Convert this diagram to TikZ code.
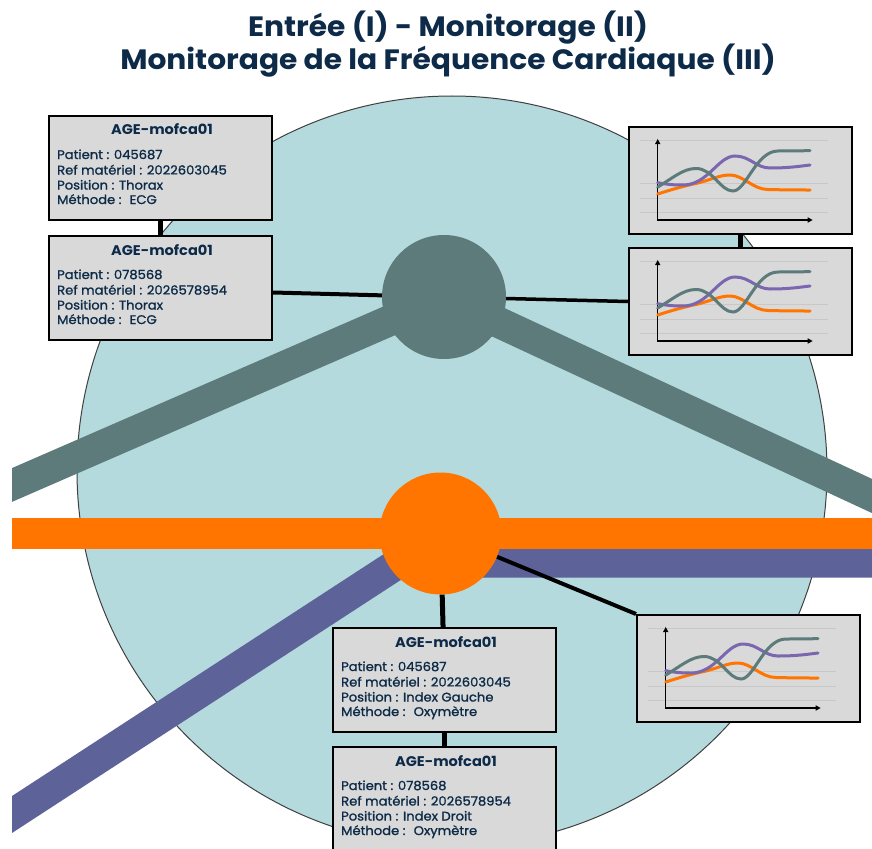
\documentclass[tikz,border=0pt]{standalone}
\usepackage{fontspec}
\setmainfont{Poppins}
\newfontfamily\titlef{Poppins}[FakeStretch=1.06]
\newfontfamily\bodyf{Poppins}[FakeStretch=1.05, FakeBold=1.3]
\newfontfamily\boxtitlef{Poppins}[FakeStretch=1.04]
\usetikzlibrary{arrows.meta,calc}
\definecolor{bgteal}{HTML}{B4DADD}
\definecolor{gnode}{HTML}{5C7B7A}
\definecolor{orng}{HTML}{FF7500}
\definecolor{purp}{HTML}{5D6299}
\definecolor{boxgray}{HTML}{D9D9D9}
\definecolor{navy}{HTML}{0D2B48}
\definecolor{chpurp}{HTML}{7B67AF}
\definecolor{gridc}{HTML}{C8C8C8}
\tikzset{
  infobox/.style={draw=black, line width=2pt, fill=boxgray, minimum width=223pt, minimum height=104pt, inner sep=0pt, anchor=north west},
  chartframe/.style={draw=black, line width=2pt, fill=boxgray, minimum width=223pt, minimum height=107pt, inner sep=0pt, anchor=north west},
  boxtitle/.style={font=\boxtitlef\bfseries\fontsize{14}{15}\selectfont, text=navy, inner sep=0pt, anchor=base},
  boxline/.style={font=\bodyf\fontsize{12.5}{15}\selectfont, text=navy, inner sep=0pt, anchor=base west},
  titlefont/.style={font=\titlef\bfseries\fontsize{28}{33}\selectfont, text=navy, inner sep=0pt, anchor=base},
  band/.style={line width=31pt, line join=round},
  conn/.style={draw=black, line width=4pt},
  vconn/.style={draw=black, line width=5pt},
  axisl/.style={draw=black, line width=1.3pt, {Triangle[length=5pt,width=5pt]}-{Triangle[length=5pt,width=5pt]}},
  curvel/.style={line width=3pt, line cap=round},
  gridl/.style={draw=gridc, line width=0.5pt},
}
\newcommand\infobox[7]{%
  \node[infobox] (#1) at (#2,#3) {};
  \node[boxtitle] (#1-t) at ($(#1.north)+(1.5,20)$) {AGE-mofca01};
  \node[boxline] (#1-a) at ($(#1.north west)+(9,44)$) {Patient : #4};
  \node[boxline] (#1-b) at ($(#1.north west)+(9,59.5)$) {Ref matériel : #5};
  \node[boxline] (#1-c) at ($(#1.north west)+(9,74.5)$) {Position : #6};
  \node[boxline] (#1-d) at ($(#1.north west)+(9,89)$) {Méthode : \ #7};
}
\newcommand\chartbox[3]{%
  \node[chartframe] (#1) at (#2,#3) {};
  \begin{scope}[shift={(#2,#3)}]
    \foreach \gy in {14,57,72,86} {\draw[gridl] (12,\gy) -- (200,\gy);}
    \draw[axisl] (29.7,13) -- (29.7,94) -- (184.7,94);
    \draw[curvel, orng] (29.7,68) .. controls (45,63) and (60,59) .. (70,57)
      .. controls (85,53) and (92,49) .. (102,49)
      .. controls (115,49) and (125,63.5) .. (140,63.5)
      .. controls (160,64) and (170,64) .. (182,64);
    \draw[curvel, chpurp] (29.7,56.7) .. controls (40,58.5) and (45,59) .. (55,59)
      .. controls (80,59) and (90,30) .. (107,30)
      .. controls (122,30) and (128,42) .. (142,42)
      .. controls (160,42) and (170,40.5) .. (182,39);
    \draw[curvel, gnode] (29.7,61) .. controls (45,52) and (55,42.5) .. (68,42.5)
      .. controls (85,42.5) and (92,65) .. (105,65)
      .. controls (118,65) and (128,25) .. (150,25)
      .. controls (165,25) and (175,24.7) .. (182,24.7);
  \end{scope}
}
\begin{document}
\begin{tikzpicture}[x=1pt, y=-1pt]
\useasboundingbox (0,0) rectangle (872,848);
\fill[white] (0,0) rectangle (872,848);
% title
\node[titlefont] (title1) at (448,37) {Entrée (I) - Monitorage (II)};
\node[titlefont] (title2) at (448,70) {Monitorage de la Fréquence Cardiaque (III)};
% big background circle
\node[circle, draw=black!75, line width=1pt, fill=bgteal, minimum size=750pt, inner sep=0pt] (bg) at (452,471) {};
% hub nodes positions
\coordinate (gc) at (444,297);
\coordinate (oc) at (440.5,533.5);
\coordinate (gl) at (0,490.2);
\coordinate (gr) at (900,509);
\coordinate (ol) at (0,533.5);
\coordinate (orr) at (900,533.5);
\coordinate (pl) at (0,822.3);
\coordinate (pk) at (400,562);
\coordinate (pr) at (900,562);
% bands
\begin{scope}
  \clip (12,0) rectangle (872,848);
  \draw[band, purp] (pl) -- (pk) -- (pr);
  \draw[band, gnode] (gl) -- (gc) -- (gr);
  \draw[band, orng] (ol) -- (orr);
\end{scope}
\node[circle, fill=gnode, minimum size=124pt, inner sep=0pt] (g) at (gc) {};
\node[circle, fill=orng, minimum size=122pt, inner sep=0pt] (o) at (oc) {};
% boxes
\infobox{tl1}{48}{115}{045687}{2022603045}{Thorax}{ECG}
\infobox{tl2}{48}{235}{078568}{2026578954}{Thorax}{ECG}
\infobox{bb1}{332}{627}{045687}{2022603045}{Index Gauche}{Oxymètre}
\infobox{bb2}{332}{746}{078568}{2026578954}{Index Droit}{Oxymètre}
\chartbox{c1}{628}{126}
\chartbox{c2}{628}{247}
\chartbox{c3}{636}{614}
% connectors
\draw[vconn] (tl1.south) -- (tl2.north);
\draw[conn] ($(tl2.east)+(0,4.5)$) -- (g);
\draw[conn, line width=3.5pt] (g) -- (c2.west);
\draw[vconn] (c1.south) -- (c2.north);
\draw[vconn] (o) -- (bb1);
\draw[conn] (o) -- (c3.north west);
\draw[vconn] (bb1.south) -- (bb2.north);
\end{tikzpicture}
\end{document}
